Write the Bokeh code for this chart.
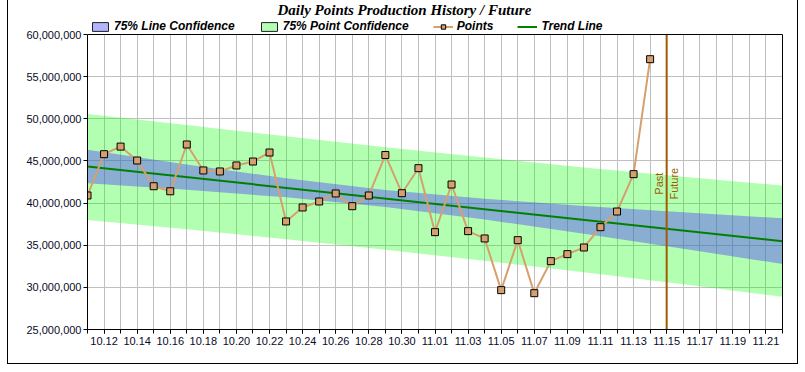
import math
from bokeh.plotting import figure
from bokeh.models import (FixedTicker, NumeralTickFormatter, Span, Legend, Label,
                          LegendItem, Range1d, InlineStyleSheet, LinearAxis)
from bokeh.core.properties import value
from bokeh.embed import file_html
from bokeh.resources import INLINE

# ---------------- data ----------------
day_labels = ["10.11", "10.12", "10.13", "10.14", "10.15", "10.16", "10.17", "10.18",
              "10.19", "10.20", "10.21", "10.22", "10.23", "10.24", "10.25", "10.26",
              "10.27", "10.28", "10.29", "10.30", "10.31", "11.01", "11.02", "11.03",
              "11.04", "11.05", "11.06", "11.07", "11.08", "11.09", "11.10", "11.11",
              "11.12", "11.13", "11.14", "11.15", "11.16", "11.17", "11.18", "11.19",
              "11.20", "11.21", "11.22"]

# daily points (millions), 10.11 .. 11.14
points_m = [40.9, 45.8, 46.7, 45.05, 42.0, 41.4, 46.95, 43.87, 43.75, 44.46,
            44.93, 46.0, 37.82, 39.48, 40.19, 41.14, 39.63, 40.9, 45.7, 41.17,
            44.14, 36.55, 42.2, 36.67, 35.8, 29.67, 35.6, 29.31, 33.11, 33.94,
            34.73, 37.14, 39.0, 43.43, 57.07]

# trend line end points (day index, millions)
trend_day = [0, 42]
trend_m = [44.34, 35.48]

# confidence bands read at these day indices (millions)
band_day = [0, 6, 12, 18, 24, 30, 36, 42]
line_conf_upper = [46.33, 44.57, 42.94, 41.56, 40.51, 39.66, 38.90, 38.19]
line_conf_lower = [42.35, 41.57, 40.68, 39.52, 38.05, 36.36, 34.58, 32.77]
point_conf_upper = [50.58, 49.25, 47.92, 46.63, 45.41, 44.23, 43.12, 42.08]
point_conf_lower = [37.98, 36.89, 35.70, 34.45, 33.15, 31.79, 30.36, 28.89]

y_ticks_m = [25, 30, 35, 40, 45, 50, 55, 60]
divider_label = "11.15"
title_text = "Daily Points Production History / Future"

M = 1_000_000
pts_x = list(range(len(points_m)))
pts_y = [v * M for v in points_m]
divider_x = day_labels.index(divider_label)
y_lo, y_hi = y_ticks_m[0] * M, y_ticks_m[-1] * M

# ---------------- layout (pixels) ----------------
PLOT_H = 295          # height of the value area
HEADER_H = 34         # room above it for title and legend (kept inside the frame)
y_frame_top = y_hi + (y_hi - y_lo) * HEADER_H / PLOT_H

p = figure(width=798, height=364, output_backend="svg", toolbar_location=None,
           x_range=Range1d(0, len(day_labels) - 1),
           y_range=Range1d(y_lo, y_frame_top),
           min_border_left=87, min_border_right=16, min_border_top=0,
           min_border_bottom=35)
p.background_fill_color = "white"
p.border_fill_color = "white"
p.outline_line_color = None
p.stylesheets = [InlineStyleSheet(css=(
    ":host::after { content: ''; position: absolute; left: 7px; top: -10px; "
    "width: 791px; height: 374px; box-sizing: border-box; "
    "border: 1px solid #000; pointer-events: none; z-index: 100; }"))]

# axes
odd = [i for i in range(len(day_labels)) if i % 2 == 1]
p.xaxis.ticker = FixedTicker(ticks=odd, minor_ticks=list(range(len(day_labels))))
p.xaxis.major_label_overrides = {i: day_labels[i] for i in odd}
p.yaxis.ticker = FixedTicker(ticks=[v * M for v in y_ticks_m], minor_ticks=[])
p.yaxis.formatter = NumeralTickFormatter(format="0,0")
p.yaxis.bounds = (y_lo, y_hi)
for ax in (p.xaxis[0], p.yaxis[0]):
    ax.axis_line_color = "black"
    ax.major_tick_line_color = "black"
    ax.minor_tick_line_color = "black"
    ax.major_tick_in = 0
    ax.major_tick_out = 4
    ax.minor_tick_in = 0
    ax.minor_tick_out = 4
    ax.major_label_text_font = "Liberation Sans"
    ax.major_label_text_font_size = "11px"
    ax.major_label_text_color = "#0a0a28"
p.xaxis.major_label_standoff = 3
p.yaxis.major_label_standoff = 2

# right edge of the value area
right_ax = LinearAxis(ticker=FixedTicker(ticks=[]), bounds=(y_lo, y_hi),
                      axis_line_color="black", major_tick_line_color=None,
                      minor_tick_line_color=None, major_label_text_font_size="0px")
p.add_layout(right_ax, "right")

p.xgrid.grid_line_color = "#C0C0C0"
p.xgrid.minor_grid_line_color = "#C0C0C0"
p.xgrid.cross_bounds = (y_lo, y_hi)
p.ygrid.grid_line_color = "#C0C0C0"

# bands
p.varea(x=band_day, y1=[v * M for v in point_conf_lower], y2=[v * M for v in point_conf_upper],
        fill_color="#00FF00", fill_alpha=0.3)
p.varea(x=band_day, y1=[v * M for v in line_conf_lower], y2=[v * M for v in line_conf_upper],
        fill_color="#4C34FF", fill_alpha=0.4)

# top edge of the value area
p.add_layout(Span(location=y_hi, dimension="width", line_color="black", line_width=1))

# trend & points
trend_r = p.line(trend_day, [v * M for v in trend_m], line_color="#008000", line_width=2)
pts_line = p.line(pts_x, pts_y, line_color="#D6A06E", line_width=2)
pts_mark = p.scatter(pts_x, pts_y, marker="square", size=7, fill_color="#D6A06E",
                     line_color="black", line_width=1)

# past / future divider
p.segment(x0=[divider_x], y0=[y_lo], x1=[divider_x], y1=[y_hi],
          line_color="#A05A00", line_width=2)
p.text(x=[divider_x, divider_x], y=[42.3 * M, 42.3 * M], text=["Past", "Future"],
       angle=math.pi / 2, x_offset=[-8, 7], text_align="center", text_baseline="middle",
       text_font=value("Liberation Sans"), text_font_size=value("11px"),
       text_color="#A05A00")

# legend swatches (hidden renderers that only feed the legend)
blue_box = p.quad(left=band_day[:1], right=band_day[1:2], top=[line_conf_upper[0] * M],
                  bottom=[line_conf_lower[0] * M], fill_color="#B3B3FF",
                  line_color="#202020", visible=False)
green_box = p.quad(left=band_day[:1], right=band_day[1:2], top=[point_conf_upper[0] * M],
                   bottom=[point_conf_lower[0] * M], fill_color="#B3FFB3",
                   line_color="#202020", visible=False)
legend = Legend(items=[
    LegendItem(label="75% Line Confidence", renderers=[blue_box]),
    LegendItem(label="75% Point Confidence", renderers=[green_box]),
    LegendItem(label="Points", renderers=[pts_line, pts_mark]),
    LegendItem(label="Trend Line", renderers=[trend_r]),
], orientation="horizontal", location=(3, PLOT_H + 1), border_line_color=None,
    background_fill_alpha=0, padding=0, margin=0, spacing=24, glyph_width=20,
    glyph_height=11, label_standoff=4, label_height=12, inactive_fill_alpha=0,
    label_text_font="Liberation Sans", label_text_font_style="bold italic",
    label_text_font_size="12px", label_text_color="black")
p.add_layout(legend)

# title
p.add_layout(Label(x=190, y=PLOT_H + 25, x_units="screen", y_units="screen", text=title_text,
                   text_align="left", text_baseline="alphabetic",
                   text_font="Liberation Serif", text_font_style="bold italic",
                   text_font_size="15px", text_color="black"))

open("out.html", "w").write(file_html(p, INLINE))
